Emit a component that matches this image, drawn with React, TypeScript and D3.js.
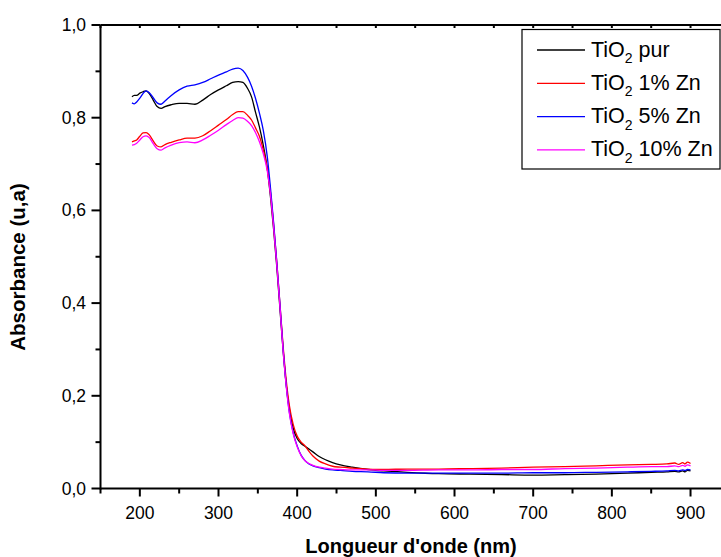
import React from "react";
import * as d3 from "d3";

const wavelengths = [190, 193, 196, 200, 204, 208, 212, 217, 222, 227, 232, 240, 250, 260, 270, 280, 290, 300, 310, 318, 325, 331, 337, 342, 347, 352, 357, 362, 366, 370, 374, 378, 382, 386, 390, 395, 400, 405, 410, 415, 420, 428, 436, 445, 455, 470, 490, 510, 540, 580, 620, 660, 700, 740, 780, 820, 850, 870, 880, 885, 890, 893, 896, 900];

const tio2Pur = [0.845, 0.848, 0.848, 0.853, 0.856, 0.858, 0.852, 0.838, 0.824, 0.820, 0.824, 0.828, 0.831, 0.831, 0.829, 0.838, 0.850, 0.860, 0.869, 0.876, 0.878, 0.876, 0.863, 0.845, 0.812, 0.780, 0.740, 0.690, 0.630, 0.560, 0.480, 0.390, 0.300, 0.225, 0.172, 0.130, 0.108, 0.097, 0.091, 0.085, 0.079, 0.069, 0.062, 0.056, 0.051, 0.046, 0.041, 0.038, 0.035, 0.032, 0.031, 0.030, 0.029, 0.030, 0.031, 0.033, 0.035, 0.036, 0.037, 0.036, 0.038, 0.036, 0.039, 0.038];

const tio2Zn1 = [0.748, 0.750, 0.752, 0.760, 0.767, 0.768, 0.763, 0.750, 0.739, 0.737, 0.742, 0.747, 0.752, 0.756, 0.756, 0.761, 0.772, 0.784, 0.796, 0.807, 0.813, 0.813, 0.805, 0.795, 0.778, 0.760, 0.730, 0.690, 0.640, 0.570, 0.490, 0.400, 0.310, 0.235, 0.180, 0.138, 0.113, 0.100, 0.092, 0.080, 0.070, 0.059, 0.053, 0.048, 0.046, 0.044, 0.042, 0.041, 0.042, 0.042, 0.043, 0.044, 0.046, 0.047, 0.049, 0.051, 0.052, 0.053, 0.055, 0.052, 0.056, 0.053, 0.057, 0.054];

const tio2Zn5 = [0.832, 0.830, 0.834, 0.842, 0.852, 0.858, 0.854, 0.843, 0.832, 0.829, 0.836, 0.848, 0.860, 0.868, 0.871, 0.876, 0.884, 0.892, 0.899, 0.905, 0.907, 0.902, 0.887, 0.868, 0.842, 0.810, 0.772, 0.716, 0.650, 0.575, 0.490, 0.400, 0.305, 0.225, 0.165, 0.120, 0.092, 0.072, 0.060, 0.053, 0.049, 0.045, 0.042, 0.040, 0.039, 0.037, 0.036, 0.034, 0.033, 0.033, 0.033, 0.033, 0.034, 0.034, 0.035, 0.036, 0.037, 0.038, 0.039, 0.038, 0.040, 0.039, 0.041, 0.040];

const tio2Zn10 = [0.741, 0.742, 0.745, 0.752, 0.759, 0.761, 0.757, 0.744, 0.733, 0.730, 0.735, 0.741, 0.746, 0.748, 0.746, 0.752, 0.762, 0.773, 0.785, 0.794, 0.800, 0.799, 0.792, 0.783, 0.768, 0.748, 0.722, 0.685, 0.635, 0.565, 0.485, 0.395, 0.300, 0.222, 0.163, 0.118, 0.090, 0.071, 0.060, 0.054, 0.050, 0.046, 0.044, 0.042, 0.041, 0.040, 0.040, 0.039, 0.039, 0.040, 0.040, 0.041, 0.041, 0.043, 0.044, 0.046, 0.047, 0.047, 0.049, 0.047, 0.050, 0.048, 0.051, 0.049];

const seriesNames = ["pur", "1% Zn", "5% Zn", "10% Zn"];
const seriesValues = [tio2Pur, tio2Zn1, tio2Zn5, tio2Zn10];
const seriesColors = ["#000000", "#ff0000", "#0000ff", "#ff00ff"];

const xTickValues = [200, 300, 400, 500, 600, 700, 800, 900];
const xMinorValues = [150, 250, 350, 450, 550, 650, 750, 850];
const yTickValues = [0, 0.2, 0.4, 0.6, 0.8, 1.0];
const yMinorValues = [0.1, 0.3, 0.5, 0.7, 0.9];

const FONT = "'Liberation Sans', Arial, sans-serif";

export default function App() {
  const left = 100.5;
  const top = 25;
  const bottom = 488.5;
  const x = d3.scaleLinear().domain([150, 950]).range([left, left + 800 * 0.7867]);
  const y = d3.scaleLinear().domain([0, 1]).range([bottom, top]);
  const right = x(950);

  const line = d3
    .line<number>()
    .x((_, i) => x(wavelengths[i]))
    .y((v) => y(v))
    .curve(d3.curveMonotoneX);

  const fmt = (v: number) => d3.format(".1f")(v).replace(".", ",");

  return (
    <svg
      width={721}
      height={557}
      style={{ position: "absolute", left: 0, top: 0, background: "#fff" }}
      fontFamily={FONT}
    >
      <rect x={0} y={0} width={721} height={557} fill="#fff" />
      {/* curves */}
      <g fill="none" strokeWidth={1.3}>
        {seriesValues.map((vals, i) => (
          <path key={i} d={line(vals) || ""} stroke={seriesColors[i]} />
        ))}
      </g>

      {/* frame */}
      <g stroke="#000" strokeWidth={2} fill="none">
        <line x1={left} x2={right} y1={bottom} y2={bottom} />
        <line x1={left} x2={left} y1={top} y2={bottom + 1} />
        <line x1={left} x2={right} y1={top} y2={top} />
        <line x1={right} x2={right} y1={top} y2={bottom} />
      </g>

      {/* ticks */}
      <g stroke="#000" strokeWidth={2}>
        {xTickValues.map((t) => (
          <line key={"xb" + t} x1={x(t)} x2={x(t)} y1={bottom} y2={bottom + 8} />
        ))}
        {xMinorValues.map((t) => (
          <line key={"xm" + t} x1={x(t)} x2={x(t)} y1={bottom} y2={bottom + 5} />
        ))}
        {[...xTickValues, ...xMinorValues].map((t) => (
          <line key={"xt" + t} x1={x(t)} x2={x(t)} y1={top} y2={top + 3} />
        ))}
        {yTickValues.map((t) => (
          <line key={"yb" + t} x1={left - 9} x2={left} y1={y(t)} y2={y(t)} />
        ))}
        {yMinorValues.map((t) => (
          <line key={"ym" + t} x1={left - 5} x2={left} y1={y(t)} y2={y(t)} />
        ))}
      </g>

      {/* tick labels */}
      <g fontSize={17.5} fill="#000">
        {xTickValues.map((t) => (
          <text key={"xl" + t} x={x(t)} y={519} textAnchor="middle">
            {t}
          </text>
        ))}
        {yTickValues.map((t) => (
          <text key={"yl" + t} x={86} y={y(t) + 6} textAnchor="end">
            {fmt(t)}
          </text>
        ))}
      </g>

      {/* axis titles */}
      <text x={411} y={553} textAnchor="middle" fontSize={20} fontWeight="bold">
        Longueur d'onde (nm)
      </text>
      <text
        transform="translate(25,267) rotate(-90)"
        textAnchor="middle"
        fontSize={20.5}
        fontWeight="bold"
      >
        Absorbance (u,a)
      </text>

      {/* legend */}
      <rect x={522} y={29.5} width={198} height={139.5} fill="#fff" stroke="#000" strokeWidth={1.2} />
      {seriesNames.map((name, i) => {
        const base = 56.5 + i * 33.3;
        return (
          <g key={"lg" + i}>
            <line x1={537} x2={585} y1={base - 6.5} y2={base - 6.5} stroke={seriesColors[i]} strokeWidth={1.3} />
            <text x={591} y={base} fontSize={21.5}>
              TiO
              <tspan dy={6.5} fontSize={14}>
                2
              </tspan>
              <tspan dy={-6.5}>{" " + name}</tspan>
            </text>
          </g>
        );
      })}
    </svg>
  );
}
